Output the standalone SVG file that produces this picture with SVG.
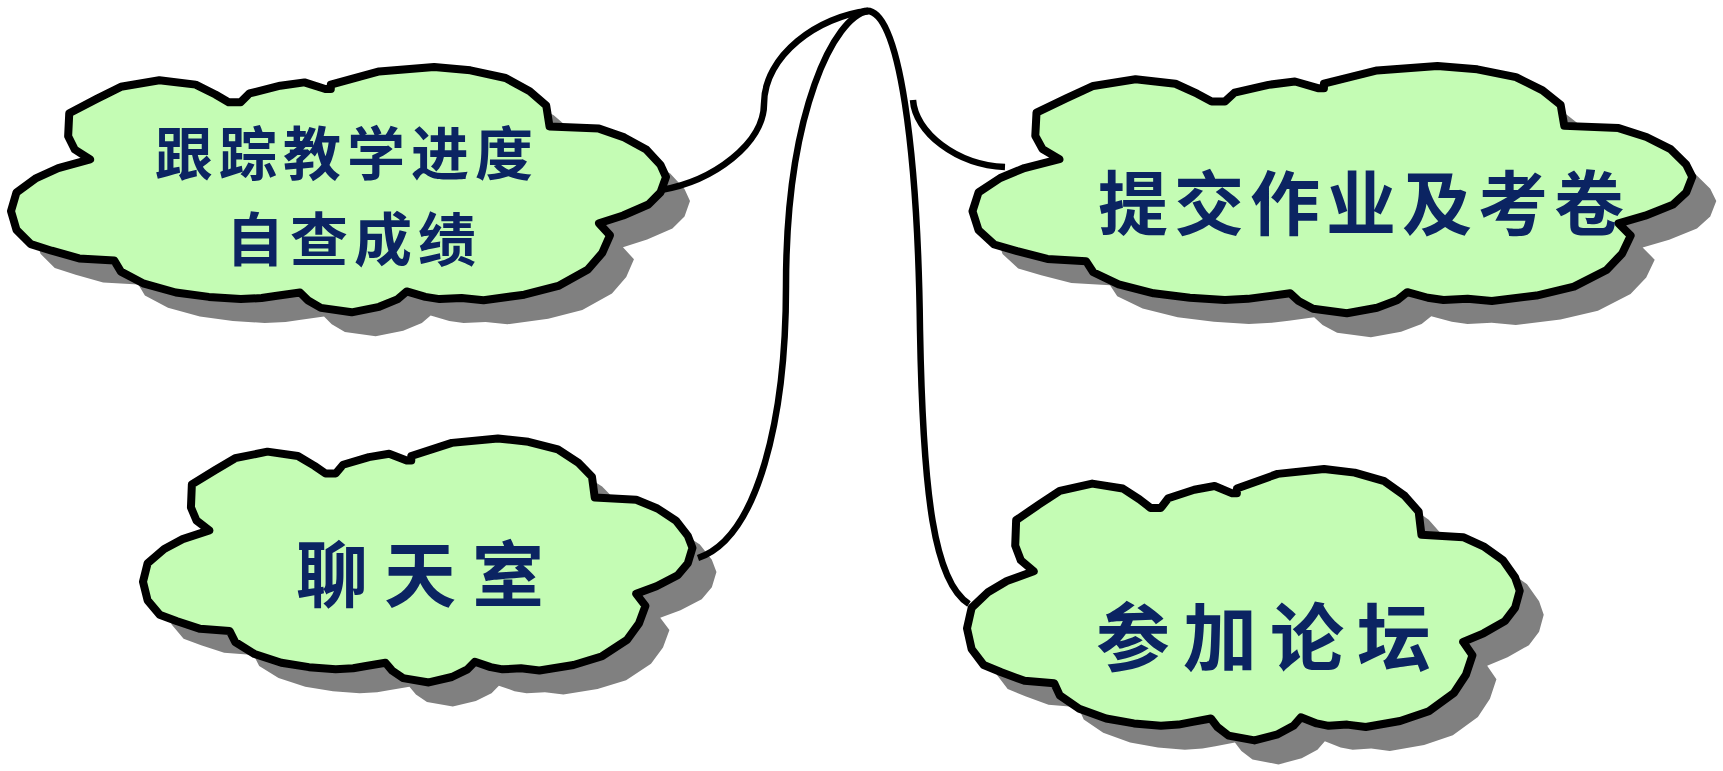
<svg xmlns="http://www.w3.org/2000/svg" xmlns:xlink="http://www.w3.org/1999/xlink" width="1723" height="771" viewBox="0 0 1723 771">
<style>
.shadow{fill:#808080;stroke:none}
.cloud{fill:#C4FCB4;stroke:#000;stroke-width:8;stroke-linejoin:round}
.lbl{fill:#0B2462;font-family:"Noto Sans CJK SC","Noto Sans CJK TC",sans-serif;font-weight:bold;text-anchor:middle;dominant-baseline:central}
.conn{fill:none;stroke:#000;stroke-width:6.5;stroke-linecap:butt}
</style>
<defs>
<path id="cl" vector-effect="non-scaling-stroke" d="M53,42 L78,29 L100,18 L135,12 L168,16 L186,25 L198,32 L209,32 L217,24 L245,17 L267,14 L286,20 L291,20 L291,16 L335,4 L385,0 L418,3 L450,10 L472,22 L487,35 L490,54 L535,56 L558,64 L578,75 L591,89 L596,100 L591,114 L580,125 L557,135 L535,142 L545,153 L538,169 L525,184 L498,199 L467,207 L430,212 L410,210 L390,211 L377,209 L360,204 L352,211 L335,218 L310,223 L282,219 L270,212 L263,205 L242,208 L228,210 L209,211 L180,209 L150,205 L121,197 L100,186 L94,176 L62,174 L37,167 L18,161 L5,148 L0,131 L5,114 L23,101 L43,92 L72,84 L58,75 L52,63 Z"/>
</defs>
<rect width="1723" height="771" fill="#fff"/>
<g id="node-progress">
<use xlink:href="#cl" class="shadow" transform="translate(35,91) scale(1.099,1.1)"/>
<use xlink:href="#cl" class="cloud" transform="translate(11,67) scale(1.099,1.1)"/>
<text class="lbl" x="347" y="150" font-size="58" letter-spacing="6">跟踪教学进度</text>
<text class="lbl" x="354" y="236" font-size="58" letter-spacing="6">自查成绩</text>
</g>
<g id="node-homework">
<use xlink:href="#cl" class="shadow" transform="translate(996.5,90) scale(1.2077,1.1088)"/>
<use xlink:href="#cl" class="cloud" transform="translate(972.5,66) scale(1.2077,1.1088)"/>
<text class="lbl" x="1364" y="199" font-size="70" letter-spacing="6">提交作业及考卷</text>
</g>
<g id="node-chat">
<use xlink:href="#cl" class="shadow" transform="translate(167,462.5) scale(0.9219,1.094)"/>
<use xlink:href="#cl" class="cloud" transform="translate(143,438.5) scale(0.9219,1.094)"/>
<text class="lbl" x="428" y="569" font-size="72" letter-spacing="16">聊天室</text>
</g>
<g id="node-forum">
<use xlink:href="#cl" class="shadow" transform="translate(991,493) scale(0.9274,1.2172)"/>
<use xlink:href="#cl" class="cloud" transform="translate(967,469) scale(0.9274,1.2172)"/>
<text class="lbl" x="1270" y="632" font-size="74" letter-spacing="13">参加论坛</text>
</g>
<g id="connectors">
<path class="conn" d="M661,190 C714,181 764,143 764,104 C764,55 819,16 868,11"/>
<path class="conn" d="M698,558 C758,538 786,418 786,286 C786,110 835,16 868,11"/>
<path class="conn" d="M862,12 C901,-4 918,165 920,330 C923,495 934,582 969,604"/>
<path class="conn" d="M913,100 C915,132 956,165 1005,167"/>
</g>
</svg>
